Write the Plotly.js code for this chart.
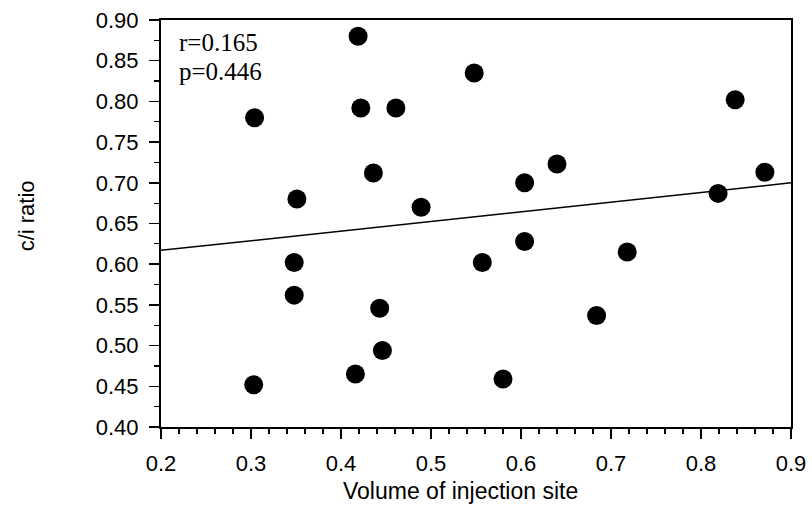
<!DOCTYPE html>
<html>
<head>
<meta charset="utf-8">
<script src="https://cdn.plot.ly/plotly-3.0.1.min.js"></script>
<style>html,body{margin:0;padding:0;background:#fff;}#chart{width:812px;height:510px;}</style>
</head>
<body>
<div id="chart"></div>
<script>
var volume = [0.304, 0.303, 0.348, 0.348, 0.351, 0.419, 0.422, 0.461, 0.436, 0.416, 0.443, 0.446,
              0.489, 0.548, 0.557, 0.580, 0.604, 0.604, 0.640, 0.684, 0.718, 0.819, 0.838, 0.871];
var ratio  = [0.780, 0.452, 0.602, 0.562, 0.680, 0.880, 0.792, 0.792, 0.712, 0.465, 0.546, 0.494,
              0.670, 0.835, 0.602, 0.459, 0.700, 0.628, 0.723, 0.537, 0.615, 0.687, 0.802, 0.713];
var fitX = [0.2, 0.9];
var fitY = [0.617, 0.700];
var statLabels = ["r=0.165", "p=0.446"];
var xTitle = "Volume of injection site";
var yTitle = "c/i ratio";
var xTicks = [0.2, 0.3, 0.4, 0.5, 0.6, 0.7, 0.8, 0.9];
var yTicks = [0.40, 0.45, 0.50, 0.55, 0.60, 0.65, 0.70, 0.75, 0.80, 0.85, 0.90];

var traces = [
  {x: fitX, y: fitY, type: 'scatter', mode: 'lines', line: {color: '#000', width: 1.5}, hoverinfo: 'skip'},
  {x: volume, y: ratio, type: 'scatter', mode: 'markers', marker: {color: '#000', size: 19}}
];

var sans = 'Liberation Sans, Arial, sans-serif';
var tickFont = {family: sans, size: 22, color: '#000'};
var layout = {
  width: 812, height: 510,
  margin: {l: 161, r: 21, t: 20, b: 83},
  paper_bgcolor: '#fff', plot_bgcolor: '#fff',
  showlegend: false,
  xaxis: {
    range: [0.2, 0.9], tickmode: 'array', tickvals: xTicks, ticktext: xTicks.map(function(v){return v.toFixed(1);}),
    ticks: 'outside', ticklen: 10, tickwidth: 1.5, tickcolor: '#000',
    minor: {dtick: 0.02, tick0: 0.2, ticks: 'outside', ticklen: 5, tickwidth: 1.2, tickcolor: '#000', showgrid: false},
    showline: true, linecolor: '#000', linewidth: 2, mirror: true,
    showgrid: false, zeroline: false, tickfont: tickFont, ticklabelstandoff: 6
  },
  yaxis: {
    range: [0.40, 0.90], tickmode: 'array', tickvals: yTicks, ticktext: yTicks.map(function(v){return v.toFixed(2);}),
    ticks: 'outside', ticklen: 10, tickwidth: 1.5, tickcolor: '#000',
    minor: {dtick: 0.025, tick0: 0.4, ticks: 'outside', ticklen: 5, tickwidth: 1.2, tickcolor: '#000', showgrid: false},
    showline: true, linecolor: '#000', linewidth: 2, mirror: true,
    showgrid: false, zeroline: false, tickfont: tickFont, ticklabelstandoff: 6
  },
  annotations: [
    {xref: 'paper', yref: 'paper', x: 0.025, y: 0.945, xanchor: 'left', yanchor: 'middle', showarrow: false,
     text: statLabels[0], font: {family: 'Liberation Serif, Times New Roman, serif', size: 25, color: '#000'}},
    {xref: 'paper', yref: 'paper', x: 0.025, y: 0.873, xanchor: 'left', yanchor: 'middle', showarrow: false,
     text: statLabels[1], font: {family: 'Liberation Serif, Times New Roman, serif', size: 25, color: '#000'}},
    {xref: 'paper', yref: 'paper', x: 0.475, y: -0.157, xanchor: 'center', yanchor: 'middle', showarrow: false,
     text: xTitle, font: {family: sans, size: 23, color: '#000'}},
    {xref: 'paper', yref: 'paper', x: -0.214, y: 0.518, xanchor: 'center', yanchor: 'middle', showarrow: false,
     textangle: -90, text: yTitle, font: {family: sans, size: 22, color: '#000'}}
  ]
};
Plotly.newPlot('chart', traces, layout, {displayModeBar: false, staticPlot: true});
</script>
</body>
</html>
